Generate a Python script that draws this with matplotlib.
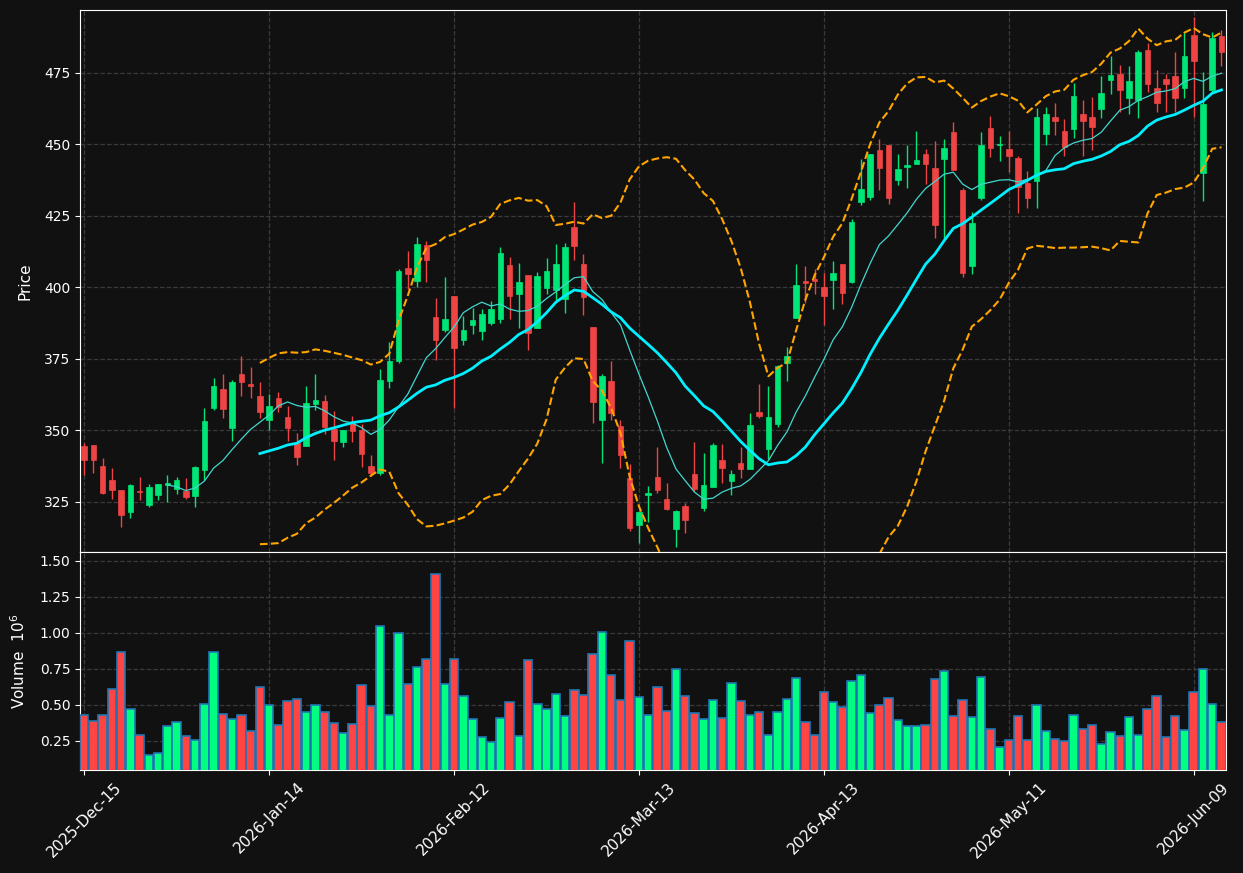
import matplotlib.pyplot as plt
import numpy as np
import pandas as pd

holidays = ["2025-12-25", "2026-01-01", "2026-01-19", "2026-02-16", "2026-04-03", "2026-05-25"]

opens = [344.6, 344.9, 337.6, 332.8, 329.3, 321.4, 328.9, 323.8, 327.3, 330.8,
         329.4, 328.9, 327.0, 336.3, 357.9, 364.4, 350.9, 369.6, 366.4, 361.9,
         353.7, 361.2, 354.6, 345.7, 344.7, 359.3, 360.2, 350.5, 346.1, 352.8,
         350.1, 337.6, 335.0, 367.2, 374.4, 406.9, 402.2, 415.0, 389.5, 385.0,
         396.9, 381.5, 386.7, 384.8, 387.6, 388.8, 407.7, 397.6, 404.5, 385.8,
         399.9, 399.2, 395.9, 421.3, 408.1, 386.1, 353.5, 367.3, 351.7, 333.2,
         317.0, 327.3, 333.6, 326.2, 315.5, 323.5, 334.6, 323.0, 330.2, 339.8,
         332.2, 338.7, 336.4, 356.5, 343.6, 352.4, 373.6, 389.2, 402.4, 402.8,
         400.2, 402.6, 408.2, 401.9, 430.0, 431.6, 447.9, 449.7, 437.4, 442.1,
         443.1, 446.5, 441.6, 444.9, 454.4, 434.0, 407.6, 431.3, 455.9, 449.7,
         448.3, 445.3, 436.6, 437.2, 453.7, 459.5, 454.6, 455.4, 460.5, 459.5,
         462.4, 472.7, 474.8, 466.1, 465.7, 483.1, 469.9, 472.8, 474.1, 469.9,
         488.1, 440.0, 469.2, 487.8]
highs = [345.7, 345.0, 340.3, 336.8, 329.3, 331.4, 333.8, 331.3, 331.4, 334.4,
         333.8, 333.4, 337.6, 358.0, 368.5, 369.8, 367.7, 376.2, 372.3, 367.0,
         362.8, 363.5, 358.4, 349.0, 365.4, 369.6, 362.3, 356.8, 350.3, 355.0,
         352.4, 341.3, 371.5, 380.8, 406.3, 412.6, 417.8, 416.4, 396.4, 403.8,
         396.9, 390.1, 392.7, 392.6, 395.2, 414.1, 410.6, 408.4, 404.5, 405.3,
         410.3, 415.1, 415.7, 429.9, 411.8, 386.1, 369.8, 374.4, 353.8, 338.1,
         322.0, 330.5, 344.3, 331.6, 322.2, 324.5, 345.9, 342.0, 345.6, 345.4,
         336.1, 344.2, 356.1, 366.1, 365.4, 372.9, 379.3, 408.2, 407.4, 406.3,
         404.9, 409.2, 408.2, 423.9, 445.0, 446.5, 452.0, 449.7, 446.7, 449.9,
         454.8, 448.5, 451.3, 452.0, 457.8, 434.7, 426.4, 454.2, 460.0, 453.0,
         454.7, 446.0, 440.6, 462.6, 463.2, 464.6, 458.8, 471.6, 465.5, 466.7,
         473.8, 481.1, 477.7, 477.4, 483.0, 485.4, 476.2, 474.5, 482.3, 489.2,
         494.4, 475.3, 489.2, 490.0]
lows = [334.4, 335.1, 327.8, 326.0, 316.3, 319.4, 325.6, 323.3, 325.7, 325.0,
        327.8, 326.0, 323.3, 332.8, 357.2, 354.4, 346.4, 362.2, 361.3, 354.5,
        350.3, 356.5, 346.3, 337.8, 344.5, 357.3, 348.6, 339.8, 344.3, 345.8,
        337.2, 333.9, 334.5, 364.9, 373.5, 399.5, 400.2, 402.0, 374.5, 384.5,
        358.0, 379.8, 383.8, 381.5, 387.0, 387.6, 388.8, 385.9, 378.1, 385.8,
        397.6, 395.5, 391.1, 409.7, 390.5, 352.6, 338.7, 353.8, 337.0, 314.9,
        310.5, 318.0, 328.2, 322.1, 309.1, 314.3, 328.8, 321.8, 330.2, 331.7,
        327.4, 333.2, 336.4, 354.3, 339.9, 351.2, 367.4, 389.2, 394.7, 397.8,
        386.9, 392.3, 394.1, 401.4, 429.0, 430.5, 434.0, 429.3, 435.7, 434.8,
        443.1, 436.0, 417.4, 417.1, 441.2, 403.7, 404.7, 430.7, 445.6, 444.1,
        440.3, 426.0, 427.9, 427.9, 449.7, 453.4, 445.8, 452.4, 445.8, 448.1,
        459.1, 467.7, 461.2, 460.8, 459.1, 468.4, 461.2, 461.5, 461.2, 466.3,
        459.5, 430.2, 468.4, 477.4]
closes = [339.5, 339.8, 328.0, 329.1, 320.4, 331.0, 328.4, 330.3, 331.4, 331.7,
          332.8, 326.6, 337.3, 353.2, 365.7, 357.5, 366.8, 366.9, 365.5, 356.5,
          358.4, 358.2, 351.0, 340.8, 359.5, 360.5, 351.3, 346.4, 350.1, 349.9,
          341.9, 335.0, 367.8, 374.4, 405.9, 404.6, 415.3, 409.5, 381.5, 388.8,
          378.8, 385.0, 388.5, 390.6, 392.6, 411.9, 397.0, 401.9, 384.1, 404.1,
          405.7, 408.1, 414.0, 414.4, 396.7, 359.8, 369.1, 356.1, 341.4, 315.8,
          321.5, 328.2, 329.1, 322.7, 321.8, 318.6, 329.5, 331.0, 345.0, 337.0,
          334.9, 336.4, 352.0, 355.2, 354.8, 372.5, 375.9, 400.7, 401.7, 402.1,
          397.0, 404.9, 398.0, 422.9, 434.3, 446.5, 441.7, 431.3, 441.3, 442.7,
          444.4, 443.1, 421.9, 448.8, 441.2, 405.1, 422.4, 449.7, 448.7, 450.0,
          445.9, 435.1, 431.4, 459.5, 460.5, 458.2, 449.0, 466.8, 458.2, 456.1,
          468.1, 474.2, 469.0, 472.3, 482.4, 471.0, 464.4, 471.3, 466.4, 480.8,
          479.1, 464.0, 487.2, 482.5]
# volume in millions
volumes = [0.43, 0.389, 0.43, 0.606, 0.868, 0.472, 0.292, 0.153, 0.167, 0.354,
           0.382, 0.285, 0.257, 0.507, 0.868, 0.4375, 0.403, 0.43, 0.319, 0.625,
           0.5, 0.361, 0.528, 0.542, 0.451, 0.5, 0.451, 0.375, 0.306, 0.368,
           0.639, 0.493, 1.049, 0.43, 1.0, 0.646, 0.764, 0.819, 1.41, 0.646,
           0.819, 0.5625, 0.403, 0.278, 0.243, 0.41, 0.521, 0.285, 0.8125, 0.507,
           0.472, 0.576, 0.424, 0.604, 0.569, 0.854, 1.007, 0.708, 0.535, 0.944,
           0.556, 0.43, 0.625, 0.458, 0.75, 0.5625, 0.444, 0.403, 0.535, 0.41,
           0.653, 0.528, 0.43, 0.451, 0.292, 0.451, 0.542, 0.6875, 0.382, 0.292,
           0.59, 0.521, 0.486, 0.667, 0.708, 0.444, 0.5, 0.549, 0.396, 0.354,
           0.354, 0.361, 0.68, 0.736, 0.424, 0.535, 0.417, 0.694, 0.333, 0.208,
           0.257, 0.424, 0.257, 0.5, 0.319, 0.264, 0.25, 0.43, 0.333, 0.361,
           0.229, 0.3125, 0.285, 0.417, 0.292, 0.472, 0.5625, 0.278, 0.424, 0.326,
           0.59, 0.75, 0.507, 0.382]

BG = "#111111"
UP = "#00e676"
DOWN = "#ef4444"
VOL_UP = "#00ff80"
VOL_DOWN = "#ff4444"

dates = pd.bdate_range("2025-12-15", periods=len(closes), freq="C", holidays=holidays)
close_s = pd.Series(closes)
ma10 = close_s.rolling(10).mean()
ma20 = close_s.rolling(20).mean()
sd20 = close_s.rolling(20).std()
bb_up = ma20 + 2 * sd20
bb_lo = ma20 - 2 * sd20

x = np.arange(len(closes))
o = np.array(opens)
c = np.array(closes)
up = c >= o

fig = plt.figure(figsize=(12.43, 8.73), dpi=100, facecolor=BG)
ax = fig.add_axes([0.0644, 0.3677, 0.922, 0.6208])
axv = fig.add_axes([0.0644, 0.118, 0.922, 0.2497], sharex=ax)

for a in (ax, axv):
    a.set_facecolor(BG)
    for s in a.spines.values():
        s.set_color("white")
    a.tick_params(colors="white", labelsize=10)
    a.grid(True, linestyle="--", color="#3a3a3a", linewidth=0.9)
    a.set_axisbelow(True)

# candles
cols = np.where(up, UP, DOWN)
ax.vlines(x, lows, highs, colors=cols, linewidth=1, zorder=2)
body_lo = np.minimum(o, c)
body_h = np.maximum(np.abs(c - o), 0.4)
ax.bar(x, body_h, bottom=body_lo, width=0.6, color=cols, edgecolor=cols, linewidth=0.5, zorder=3)

ax.plot(x, ma10, color="#40d8d0", linewidth=0.9, zorder=4)
ax.plot(x, ma20, color="#00f0ff", linewidth=2, zorder=4)
ax.plot(x, bb_up, color="orange", linestyle="--", linewidth=1.5, zorder=4)
ax.plot(x, bb_lo, color="orange", linestyle="--", linewidth=1.5, zorder=4)

ax.set_ylim(307.5, 497)
ax.set_yticks([325, 350, 375, 400, 425, 450, 475])
ax.set_ylabel("Price", color="white", fontsize=11, labelpad=8)
plt.setp(ax.get_xticklabels(), visible=False)

# volume
vcols = np.where(up, VOL_UP, VOL_DOWN)
axv.bar(x, volumes, width=0.92, color=vcols, edgecolor="#1f77b4", linewidth=1.2, zorder=3)
axv.set_ylim(0.046, 1.5625)
axv.set_yticks([0.25, 0.5, 0.75, 1.0, 1.25, 1.5])
axv.set_ylabel("Volume  $10^6$", color="white", fontsize=11, labelpad=8)

ticks = list(range(0, len(closes), 20))
axv.set_xticks(ticks)
axv.set_xticklabels([dates[i].strftime("%Y-%b-%d") for i in ticks], rotation=45, ha="center", fontsize=11)
axv.set_xlim(-0.45, len(closes) - 0.5)

plt.savefig("out.png", dpi=100, facecolor=BG)
